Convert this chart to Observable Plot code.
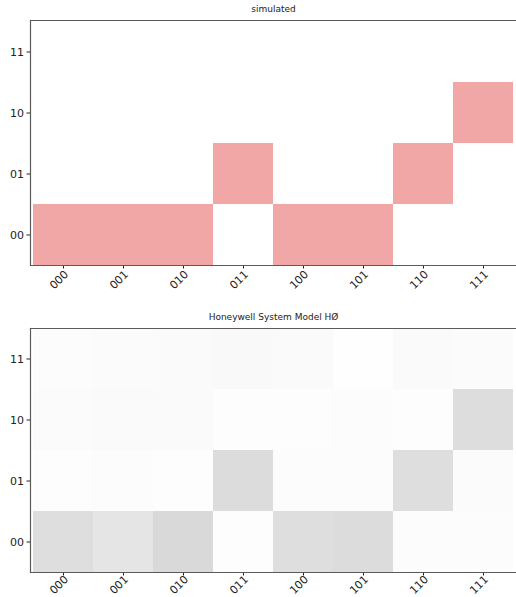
<!DOCTYPE html>
<html>
<head>
<meta charset="utf-8">
<script src="https://cdn.jsdelivr.net/npm/d3@7"></script>
<script src="https://cdn.jsdelivr.net/npm/@observablehq/plot@0.6"></script>
<style>
  html, body { margin: 0; padding: 0; background: #fff; overflow: hidden; }
  #chart { width: 516px; height: 597px; overflow: hidden; }
  #chart svg { display: block; }
</style>
</head>
<body>
<div id="chart"></div>
<script>
// Output bitstrings (x axis) and input states (y axis)
const cols = ["000", "001", "010", "011", "100", "101", "110", "111"];
const rows = ["11", "10", "01", "00"];

// Simulated result: 1 where the outcome occurs (rows in order 11,10,01,00)
const simulated = [
  [0, 0, 0, 0, 0, 0, 0, 0],
  [0, 0, 0, 0, 0, 0, 0, 1],
  [0, 0, 0, 1, 0, 0, 1, 0],
  [1, 1, 1, 0, 1, 1, 0, 0]
];

// Honeywell System Model HØ: estimated relative intensities (rows 11,10,01,00)
const honeywell = [
  [0.075, 0.10, 0.125, 0.15, 0.125, 0.025, 0.125, 0.10],
  [0.10, 0.125, 0.125, 0.05, 0.05, 0.075, 0.05, 0.82],
  [0.05, 0.075, 0.05, 0.85, 0.075, 0.075, 0.80, 0.10],
  [0.80, 0.625, 0.925, 0.05, 0.80, 0.86, 0.075, 0.075]
];

const titles = ["simulated", "Honeywell System Model H\u00d8"];

function table(matrix) {
  const out = [];
  rows.forEach((r, i) => cols.forEach((c, j) => out.push({x: c, y: r, v: matrix[i][j]})));
  return out;
}

const spine = "#5a5a5a";

function panel(data, title, fillFn, height, marginBottom, labelPad) {
  return Plot.plot({
    width: 516,
    height: height,
    marginLeft: 30,
    marginRight: 0,
    marginTop: 20,
    marginBottom: marginBottom,
    style: {fontFamily: "DejaVu Sans, sans-serif", fontSize: "11px", color: "#222", background: "#fff"},
    x: {domain: cols, padding: 0, label: null, axis: null},
    y: {domain: rows, padding: 0, label: null, tickSize: 3.5, tickPadding: 3},
    marks: [
      Plot.cell(data, {x: "x", y: "y", fill: fillFn, inset: 0}),
      Plot.axisX({tickSize: 3.5, tickFormat: () => "", label: null}),
      Plot.axisX({tickSize: 0, tickRotate: -45, tickPadding: labelPad, dx: 3, label: null, fill: "#222"}),
      Plot.frame({anchor: "left", stroke: spine, strokeWidth: 1.2}),
      Plot.frame({anchor: "top", stroke: spine, strokeWidth: 1.2}),
      Plot.frame({anchor: "bottom", stroke: spine, strokeWidth: 1.2}),
      Plot.text([title], {text: d => d, frameAnchor: "top", lineAnchor: "middle", dy: -11, fontSize: 9, fill: "#222"})
    ]
  });
}

const simColor = d => d.v > 0 ? "#f1a7a6" : "#ffffff";
const hwScale = d3.scaleLinear().domain([0, 1]).range(["#ffffff", "#d6d6d6"]);
const hwColor = d => hwScale(d.v);

const root = document.getElementById("chart");
root.appendChild(panel(table(simulated), titles[0], simColor, 308, 43, 7));
root.appendChild(panel(table(honeywell), titles[1], hwColor, 289, 25, 5));
</script>
</body>
</html>
